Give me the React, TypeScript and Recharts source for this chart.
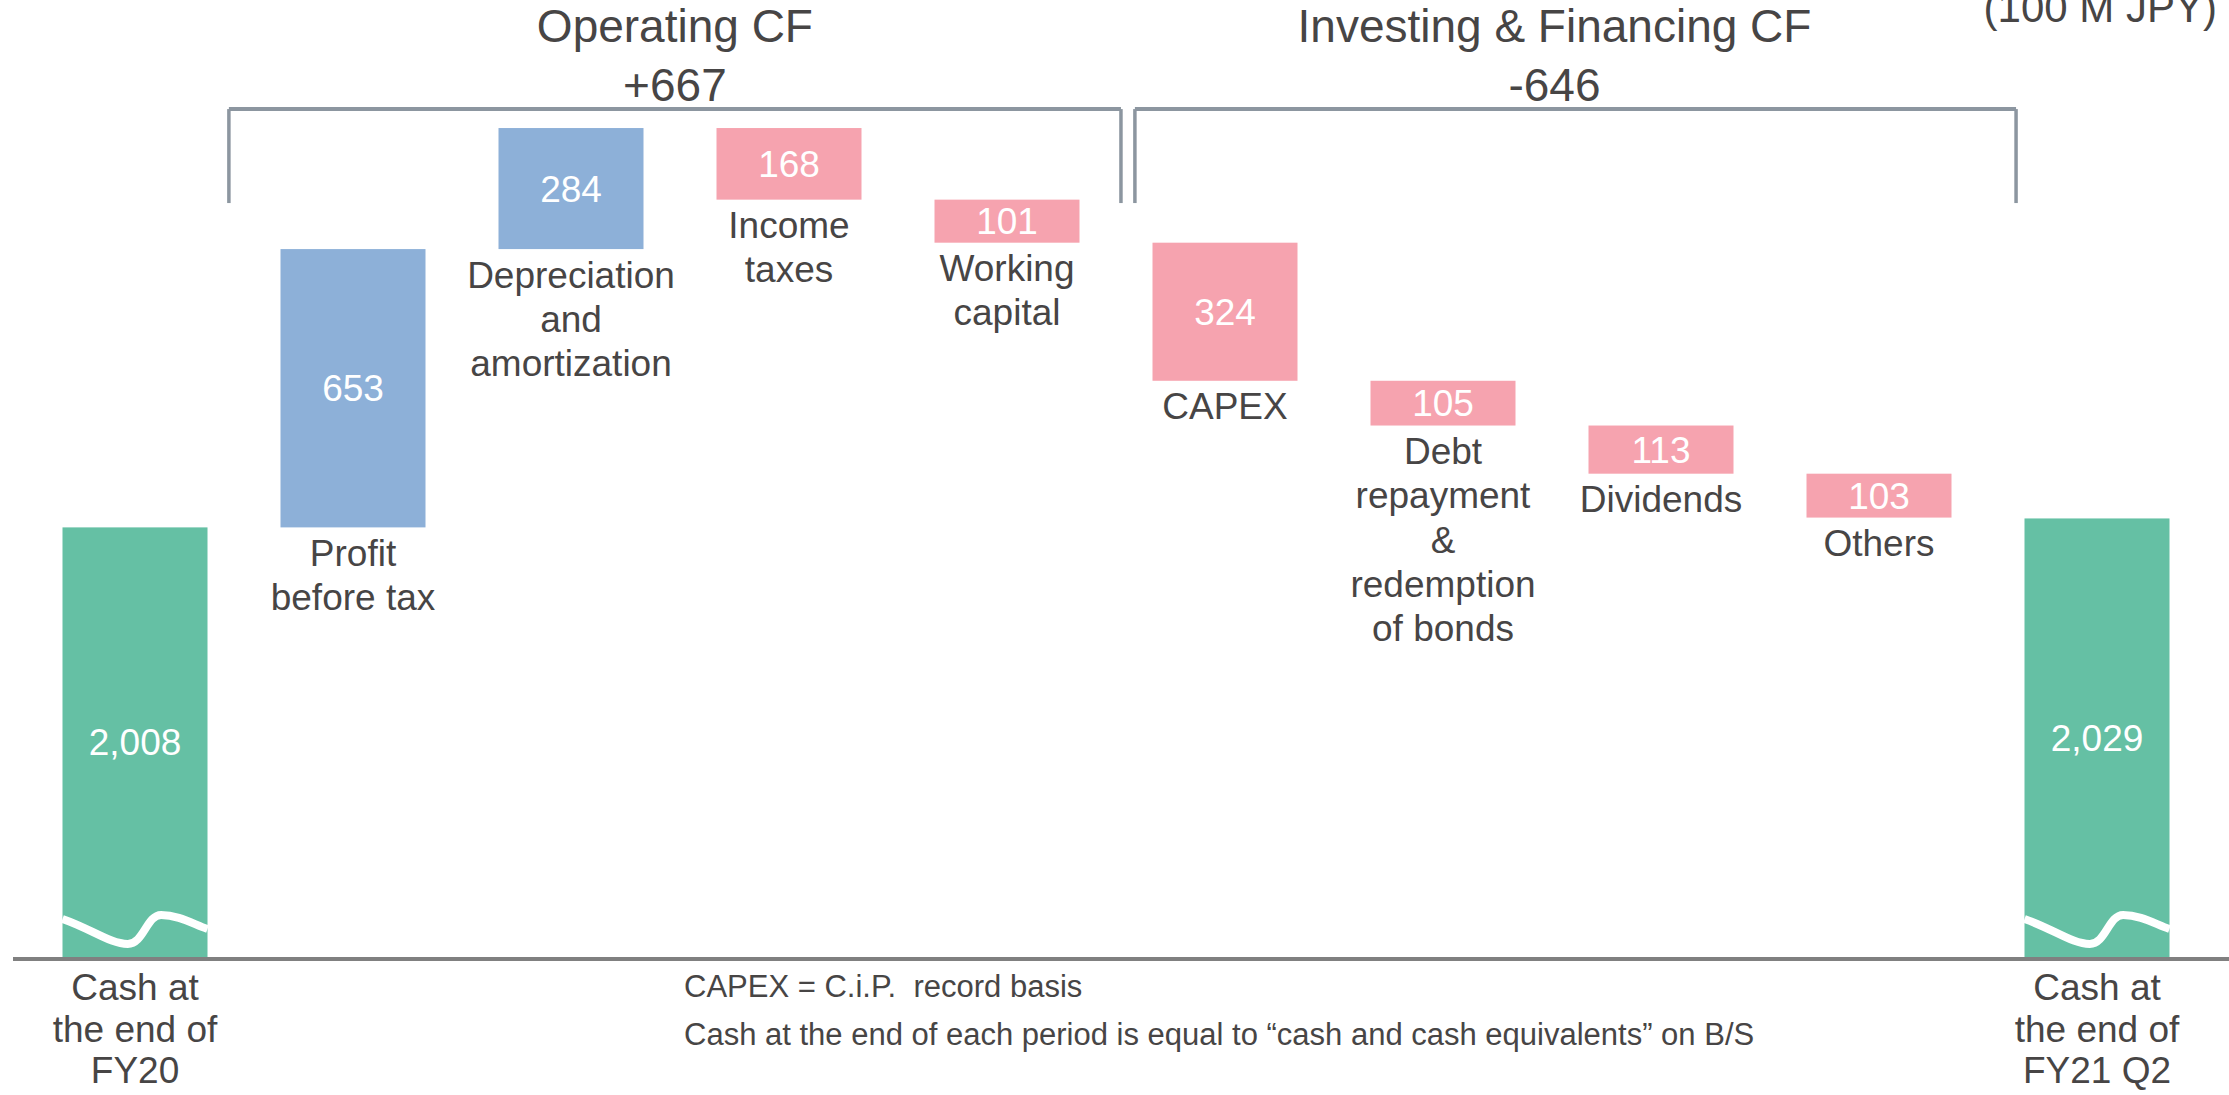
import React from "react";
import { BarChart, Bar, XAxis, YAxis, ReferenceLine } from "recharts";

// cash flow bridge, 100 M JPY
const categories = [
  "Cash at the end of FY20",
  "Profit before tax",
  "Depreciation and amortization",
  "Income taxes",
  "Working capital",
  "CAPEX",
  "Debt repayment & redemption of bonds",
  "Dividends",
  "Others",
  "Cash at the end of FY21 Q2",
];
const labelLines = [
  ["Cash at", "the end of", "FY20"],
  ["Profit", "before tax"],
  ["Depreciation", "and", "amortization"],
  ["Income", "taxes"],
  ["Working", "capital"],
  ["CAPEX"],
  ["Debt", "repayment", "&", "redemption", "of bonds"],
  ["Dividends"],
  ["Others"],
  ["Cash at", "the end of", "FY21 Q2"],
];
const amounts = [2008, 653, 284, -168, -101, -324, -105, -113, -103, 2029];
const kinds = ["total", "up", "up", "down", "down", "down", "down", "down", "down", "total"];

const groupTitles = ["Operating CF", "Investing & Financing CF"];
const groupTotals = ["+667", "-646"];
const footnotes = [
  "CAPEX = C.i.P.  record basis",
  "Cash at the end of each period is equal to \u201ccash and cash equivalents\u201d on B/S",
];
const unitLabel = "(100 M JPY)";

// broken axis: bars start from this value
const AXIS_FLOOR = 1000;
const AXIS_CEIL = 3000;

const COLORS: Record<string, string> = {
  total: "#65c0a4",
  up: "#8db0d8",
  down: "#f6a3af",
};
const TEXT = "#474545";
const BRACKET = "#8c96a0";
const FONT = "'Liberation Sans', Arial, sans-serif";

let running = 0;
const data = categories.map((name, i) => {
  const v = amounts[i];
  const kind = kinds[i];
  let range: number[];
  if (kind === "total") {
    range = [AXIS_FLOOR, v];
    running = v;
  } else {
    const next = running + v;
    range = [Math.min(running, next), Math.max(running, next)];
    running = next;
  }
  return { name, idx: i, kind, range, amount: v, lines: labelLines[i] };
});

// bracket ends in category-index units
const brackets = [
  { from: 0.433, to: 4.525, titleDx: 0 },
  { from: 4.589, to: 8.631, titleDx: -21 },
];
const BRACKET_TOP = 2989.5;
const BRACKET_BOTTOM = 2769;

const WaterfallBar = (props: any) => {
  const { x, y, width: w, height, payload } = props;
  const b = y + height;
  const cx = x + w / 2;
  const isTotal = payload.kind === "total";
  const first = isTotal ? b + 43 : b + 38.5;
  const step = isTotal ? 41.5 : 44.3;
  return (
    <g>
      <rect x={x} y={y} width={w} height={height} fill={COLORS[payload.kind]} />
      {isTotal && (
        <path
          d={`M${x},${b - 38} C${x + 0.2 * w},${b - 28} ${x + 0.33 * w},${b - 13} ${x + 0.45 * w},${b - 13} C${x + 0.56 * w},${b - 13} ${x + 0.58 * w},${b - 42} ${x + 0.68 * w},${b - 42} C${x + 0.8 * w},${b - 42} ${x + 0.9 * w},${b - 33} ${x + w},${b - 28}`}
          stroke="#fff"
          strokeWidth={8}
          fill="none"
        />
      )}
      <text
        x={cx}
        y={y + height / 2 + 13}
        textAnchor="middle"
        fill="#fff"
        fontSize={37}
        fontFamily={FONT}
      >
        {Math.abs(payload.amount).toLocaleString("en-US")}
      </text>
      {payload.lines.map((line: string, i: number) => (
        <text
          key={i}
          x={cx}
          y={first + i * step}
          textAnchor="middle"
          fill={TEXT}
          fontSize={37}
          fontFamily={FONT}
        >
          {line}
        </text>
      ))}
    </g>
  );
};

const GroupTitle = (props: any) => {
  const { viewBox, title, total, dx } = props;
  if (!viewBox) return null;
  const cx = viewBox.x + viewBox.width / 2 + dx;
  const y = viewBox.y;
  return (
    <g>
      <text x={cx} y={y - 67} textAnchor="middle" fill={TEXT} fontSize={46} fontFamily={FONT}>
        {title}
      </text>
      <text x={cx} y={y - 8} textAnchor="middle" fill={TEXT} fontSize={46} fontFamily={FONT}>
        {total}
      </text>
    </g>
  );
};

const App = () => {
  return (
    <div
      style={{
        position: "absolute",
        left: 0,
        top: 0,
        width: 2229,
        height: 1095,
        background: "#fff",
        fontFamily: FONT,
      }}
    >
      <BarChart
        width={2229}
        height={1095}
        data={data}
        margin={{ top: 104.6, right: 0, bottom: 108, left: 13 }}
        barSize={145}
      >
        <XAxis
          xAxisId="cat"
          dataKey="name"
          tick={false}
          tickLine={false}
          axisLine={{ stroke: "#808080", strokeWidth: 4, transform: "translate(0,2)" }}
          padding={{ left: 12.5, right: 23.5 }}
          height={30}
        />
        <XAxis
          xAxisId="num"
          type="number"
          dataKey="idx"
          domain={[-0.5, 9.5]}
          padding={{ left: 12.5, right: 23.5 }}
          hide
        />
        <YAxis hide domain={[AXIS_FLOOR, AXIS_CEIL]} />
        <Bar
          xAxisId="cat"
          dataKey="range"
          isAnimationActive={false}
          shape={<WaterfallBar />}
        />
        {brackets.map((br, i) => (
          <ReferenceLine
            key={`h${i}`}
            xAxisId="num"
            ifOverflow="visible"
            segment={[
              { x: br.from, y: BRACKET_TOP },
              { x: br.to, y: BRACKET_TOP },
            ]}
            stroke={BRACKET}
            strokeWidth={4}
            label={<GroupTitle title={groupTitles[i]} total={groupTotals[i]} dx={br.titleDx} />}
          />
        ))}
        {brackets.map((br, i) => (
          <ReferenceLine
            key={`l${i}`}
            xAxisId="num"
            ifOverflow="visible"
            segment={[
              { x: br.from, y: BRACKET_TOP },
              { x: br.from, y: BRACKET_BOTTOM },
            ]}
            stroke={BRACKET}
            strokeWidth={3.5}
          />
        ))}
        {brackets.map((br, i) => (
          <ReferenceLine
            key={`r${i}`}
            xAxisId="num"
            ifOverflow="visible"
            segment={[
              { x: br.to, y: BRACKET_TOP },
              { x: br.to, y: BRACKET_BOTTOM },
            ]}
            stroke={BRACKET}
            strokeWidth={3.5}
          />
        ))}
      </BarChart>
      <svg
        width={2229}
        height={1095}
        style={{ position: "absolute", left: 0, top: 0, pointerEvents: "none" }}
      >
        <text x={2217} y={22} textAnchor="end" fill={TEXT} fontSize={42} fontFamily={FONT}>
          {unitLabel}
        </text>
        {footnotes.map((t, i) => (
          <text
            key={i}
            x={684}
            y={997 + i * 48}
            fill={TEXT}
            fontSize={31}
            fontFamily={FONT}
            style={{ whiteSpace: "pre" }}
          >
            {t}
          </text>
        ))}
      </svg>
    </div>
  );
};

export default App;
